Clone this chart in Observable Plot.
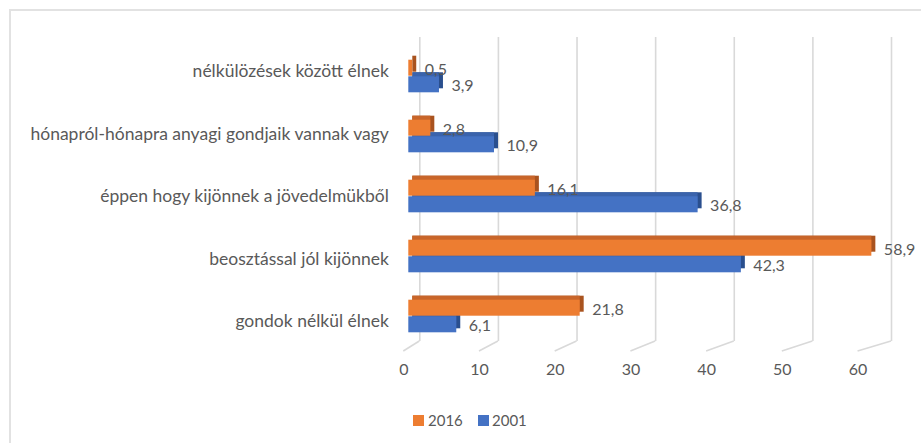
<!DOCTYPE html>
<html>
<head>
<meta charset="utf-8">
<script src="https://cdn.jsdelivr.net/npm/d3@7"></script>
<script src="https://cdn.jsdelivr.net/npm/@observablehq/plot@0.6"></script>
<style>
  html, body { margin: 0; padding: 0; background: #fff; overflow: hidden; }
  #wrap { position: relative; width: 921px; height: 443px; font-family: Lato, "Open Sans", sans-serif; }
  #border { position: absolute; left: 9px; top: 9px; width: 940px; height: 460px; border-top: 2px solid #e2e2e2; border-left: 2px solid #e2e2e2; box-sizing: border-box; pointer-events: none; }
  #chart svg { display: block; }
  #legend { position: relative; height: 43px; font-size: 15px; color: #595959; }
  .sw { position: absolute; top: 15px; width: 11px; height: 11px; }
  .lb { position: absolute; top: 11px; line-height: 19px; }
</style>
</head>
<body>
<div id="wrap">
  <div id="chart"></div>
  <div id="legend"></div>
  <div id="border"></div>
</div>
<script>
const categories = [
  "nélkülözések között élnek",
  "hónapról-hónapra anyagi gondjaik vannak vagy",
  "éppen hogy kijönnek a jövedelmükből",
  "beosztással jól kijönnek",
  "gondok nélkül élnek"
];
const values2016 = [0.5, 2.8, 16.1, 58.9, 21.8];
const values2001 = [3.9, 10.9, 36.8, 42.3, 6.1];
const seriesNames = ["2016", "2001"];
const xTicks = [0, 10, 20, 30, 40, 50, 60];

const colors = {
  "2016": {front: "#ED7D31", top: "#C8652A", side: "#A9531F"},
  "2001": {front: "#4472C4", top: "#3A63AC", side: "#2A4F8E"}
};

const d16 = categories.map((c, i) => ({category: c, value: values2016[i]}));
const d01 = categories.map((c, i) => ({category: c, value: values2001[i]}));
const fmt = v => v.toFixed(1).replace(".", ",");

const W = 921, H = 400;
const depth = 4;       // 3D extrusion of the bars
const wallShift = 11;  // gridlines sit on the back wall
const persp = 0.963, perspOff = -0.636; // front-plane tick label placement
const labelSpread = 2.5; // front-plane category label spread (px per category from middle)
const textColor = "#595959";

const band = 60.6, half = band / 2, barH = 16.6;
const topBar = {insetTop: half - barH, insetBottom: half};
const botBar = {insetTop: half, insetBottom: half - barH};

function bar3d(data, name, inset) {
  const c = colors[name];
  return {
    side: Plot.barX(data, {x: "value", y: "category", fill: c.side, dx: depth, dy: -depth, ...inset}),
    top: Plot.barX(data, {x: "value", y: "category", fill: c.top, dx: depth, dy: -depth, insetRight: depth, ...inset}),
    front: Plot.barX(data, {x: "value", y: "category", fill: c.front, ...inset})
  };
}
const b16 = bar3d(d16, "2016", topBar);
const b01 = bar3d(d01, "2001", botBar);

const mid = (categories.length - 1) / 2;
const categoryLabels = categories.map((c, i) =>
  Plot.text([c], {x: 0, y: d => d, text: d => d, textAnchor: "end", dx: -20,
    dy: (i - mid) * labelSpread - 5 + 5, fill: textColor, fontSize: 17.5})
);

const chart = Plot.plot({
  width: W,
  height: H,
  marginTop: 37,
  marginBottom: H - 341,
  marginLeft: 408,
  marginRight: 41,
  style: {fontFamily: "Lato, 'Open Sans', sans-serif", fontSize: "16px", color: textColor, background: "transparent"},
  x: {domain: [0, 60], range: [408.3, 880], axis: null},
  y: {domain: categories, range: [44.7, 347.6], padding: 0, axis: null},
  marks: [
    Plot.ruleX(xTicks, {x: d => d, dx: wallShift, stroke: "#d9d9d9", strokeWidth: 1.6}),
    Plot.text(xTicks, {x: d => persp * d + perspOff, text: d => String(d), frameAnchor: "bottom", dy: 33, fill: textColor, fontSize: 16}),
    b01.side, b01.top,
    b16.side, b16.top,
    b01.front,
    b16.front,
    ...categoryLabels,
    Plot.text(d16, {x: "value", y: "category", text: d => fmt(d.value), textAnchor: "start", dx: 12, dy: -6.75, fill: textColor, fontSize: 16}),
    Plot.text(d01, {x: "value", y: "category", text: d => fmt(d.value), textAnchor: "start", dx: 12, dy: 9.75, fill: textColor, fontSize: 16})
  ]
});

// diagonal feet of the wall gridlines down to the front plane, via the plot's x scale
const sx = chart.scale("x");
const frameBottom = H - 59;
d3.select(chart).append("g")
  .attr("stroke", "#d9d9d9").attr("stroke-width", 1.6)
  .selectAll("line").data(xTicks).join("line")
  .attr("x1", d => sx.apply(d) + wallShift).attr("y1", frameBottom)
  .attr("x2", d => sx.apply(persp * d + perspOff)).attr("y2", frameBottom + 10);

document.getElementById("chart").append(chart);

// legend
const legend = document.getElementById("legend");
const legendPos = [{sw: 413, lb: 428}, {sw: 478, lb: 492}];
seriesNames.forEach((n, i) => {
  const s = document.createElement("div");
  s.className = "sw"; s.style.left = legendPos[i].sw + "px"; s.style.background = colors[n].front;
  const l = document.createElement("div");
  l.className = "lb"; l.style.left = legendPos[i].lb + "px"; l.textContent = n;
  legend.append(s, l);
});
</script>
</body>
</html>
